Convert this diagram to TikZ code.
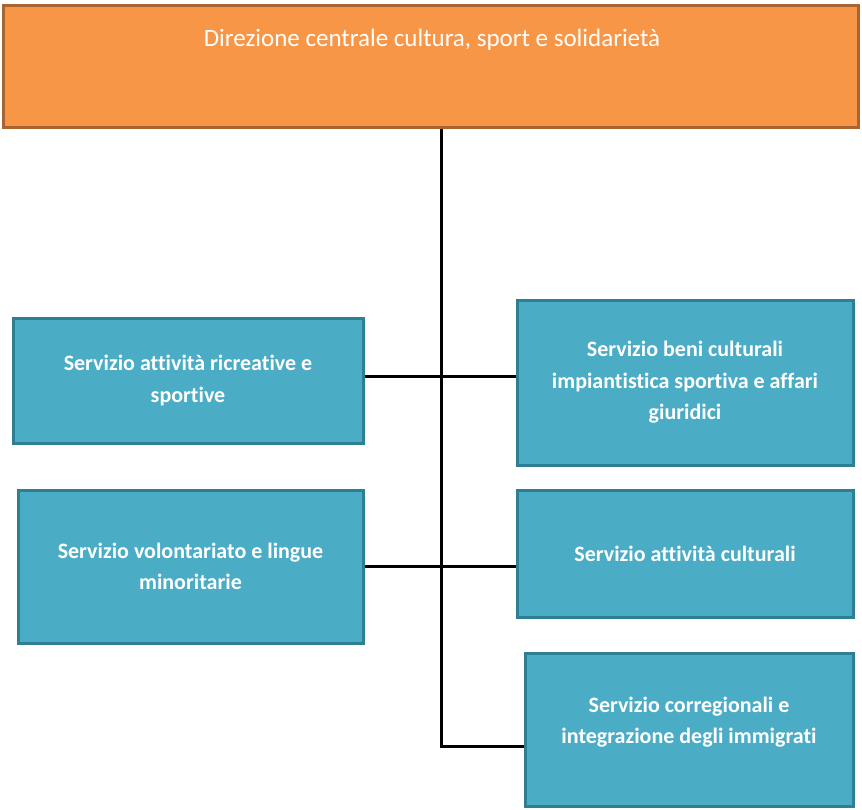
\documentclass[tikz,border=0pt]{standalone}
\usepackage{fontspec}
\setmainfont[Ligatures=NoCommon]{Carlito}
\definecolor{headfill}{HTML}{F79646}
\definecolor{headline}{HTML}{A8652F}
\definecolor{unitfill}{HTML}{4BACC6}
\definecolor{unitline}{HTML}{2F7F94}
\begin{document}
\begin{tikzpicture}[x=1pt,y=-1pt,
  headbox/.style={draw=headline, line width=3pt, fill=headfill, rectangle, inner sep=0pt},
  unitbox/.style={draw=unitline, line width=3pt, fill=unitfill, rectangle, inner sep=0pt,
    text=white, align=center, font=\fontsize{22}{31.5}\selectfont\bfseries},
  link/.style={draw=black, line width=3pt}
]
\useasboundingbox (0,0) rectangle (862,809);

% head office
\node[headbox, minimum width=855pt, minimum height=122pt] (head) at (430.5,66) {};
\node[text=white, font=\fontsize{25}{28}\selectfont, inner sep=0pt] (headtxt) at (432,40)
  {Direzione centrale cultura, sport e solidarietà};

% services
\node[unitbox, minimum width=350pt, minimum height=125pt] (s1) at (188,380.5)
  {Servizio attività ricreative e\\sportive};
\node[unitbox, minimum width=345pt, minimum height=153pt] (s2) at (190.5,566.5)
  {Servizio volontariato e lingue\\minoritarie};
\node[unitbox, minimum width=336pt, minimum height=165pt] (s3) at (685,382.5)
  {Servizio beni culturali\\impiantistica sportiva e affari\\giuridici};
\node[unitbox, minimum width=336pt, minimum height=127pt] (s4) at (685,553.5)
  {Servizio attività culturali};
\node[unitbox, minimum width=328pt, minimum height=153pt, text depth=18pt] (s5) at (689,729.5)
  {Servizio corregionali e\\integrazione degli immigrati};

% junctions on the trunk
\coordinate (j1) at (441,376);
\coordinate (j2) at (441,566);
\coordinate (j5) at (441,746);

% connectors
\draw[link] (head.south -| j5) -- (j5) -- (j5 -| s5.west);
\draw[link] (j1 -| s1.east) -- (j1 -| s3.west);
\draw[link] (j2 -| s2.east) -- (j2 -| s4.west);
\end{tikzpicture}
\end{document}
